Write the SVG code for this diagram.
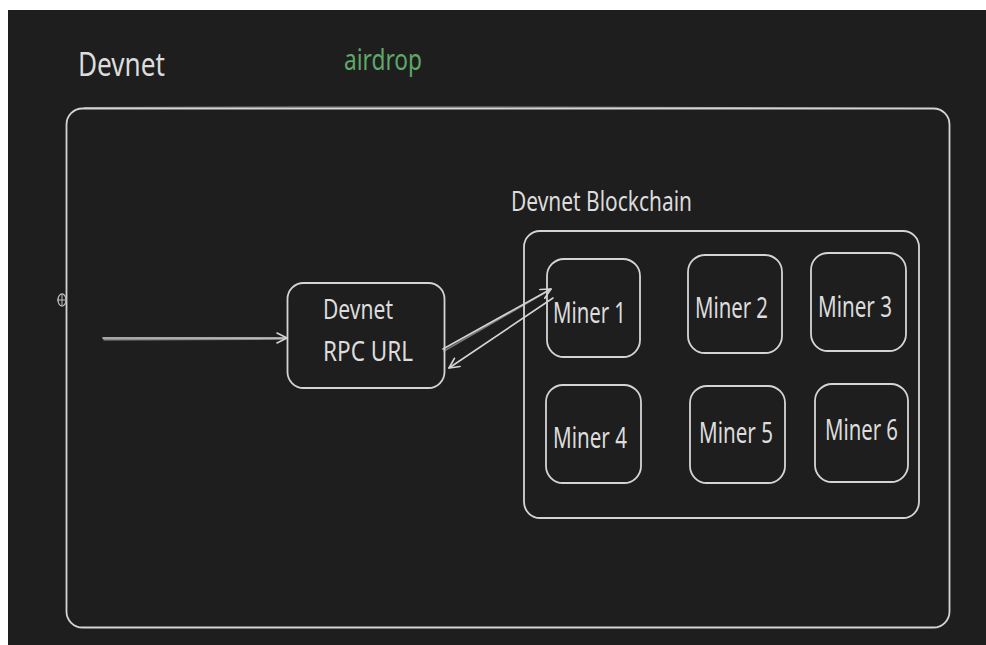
<svg xmlns="http://www.w3.org/2000/svg" width="986" height="645" viewBox="0 0 986 645">
  <defs>
    <style>
      .box { fill: none; stroke: #d4d4d4; stroke-width: 1.8; stroke-linejoin: round; }
      .box2 { fill: none; stroke: #cfcfcf; stroke-width: 0.9; opacity: 0.7; }
      .lbl { font-family: "Noto Sans", "Open Sans", "Liberation Sans", sans-serif; fill: #dcdcdc; }
      .conn { fill: none; stroke: #d4d4d4; stroke-width: 1.6; stroke-linecap: round; }
    </style>
    <marker id="arrow" viewBox="0 0 12 12" refX="11" refY="6" markerWidth="12" markerHeight="12" markerUnits="userSpaceOnUse" orient="auto">
      <path d="M1,1 L11,6 L1,11" fill="none" stroke="#d4d4d4" stroke-width="1.6" stroke-linecap="round" stroke-linejoin="round"/>
    </marker>
  </defs>

  <!-- page margin and canvas -->
  <rect x="0" y="0" width="986" height="645" fill="#ffffff"/>
  <rect x="8" y="10" width="978" height="635" fill="#1e1e1e"/>

  <!-- titles -->
  <text class="lbl" x="78" y="76" font-size="32" textLength="87" lengthAdjust="spacingAndGlyphs">Devnet</text>
  <text class="lbl" x="344" y="70" font-size="29" style="fill:#5fa866" textLength="78" lengthAdjust="spacingAndGlyphs">airdrop</text>

  <!-- outer Devnet frame -->
  <g id="devnet-frame">
    <rect class="box" x="66.5" y="108.5" width="883" height="519" rx="16"/>
    <path class="box2" d="M84,107.5 Q500,106 934,108.5"/>
  </g>

  <!-- small handle glyph on the frame edge -->
  <g id="handle">
    <ellipse cx="62" cy="300" rx="4" ry="6" fill="none" stroke="#bdbdbd" stroke-width="1.3"/>
    <line x1="57" y1="300" x2="67" y2="300" stroke="#bdbdbd" stroke-width="1"/>
    <line x1="62" y1="295" x2="62" y2="305" stroke="#bdbdbd" stroke-width="1"/>
  </g>

  <!-- RPC endpoint -->
  <g id="rpc-url">
    <rect class="box" x="287.5" y="283" width="157" height="105" rx="16"/>
    <text class="lbl" x="323" y="319" font-size="27" textLength="70" lengthAdjust="spacingAndGlyphs">Devnet</text>
    <text class="lbl" x="323" y="361" font-size="27" textLength="90" lengthAdjust="spacingAndGlyphs">RPC URL</text>
  </g>

  <!-- blockchain cluster -->
  <g id="devnet-blockchain">
    <text class="lbl" x="511" y="211" font-size="28" textLength="181" lengthAdjust="spacingAndGlyphs">Devnet Blockchain</text>
    <rect class="box" x="524" y="231" width="395" height="287" rx="16"/>
  </g>

  <g id="miner-1">
    <rect class="box" x="547" y="259" width="93" height="98" rx="17"/>
    <text class="lbl" x="553" y="323" font-size="29" textLength="73" lengthAdjust="spacingAndGlyphs">Miner 1</text>
  </g>
  <g id="miner-2">
    <rect class="box" x="688" y="255" width="94" height="98" rx="17"/>
    <text class="lbl" x="695" y="318" font-size="29" textLength="73" lengthAdjust="spacingAndGlyphs">Miner 2</text>
  </g>
  <g id="miner-3">
    <rect class="box" x="811" y="253" width="95" height="98" rx="17"/>
    <text class="lbl" x="818" y="317" font-size="29" textLength="74" lengthAdjust="spacingAndGlyphs">Miner 3</text>
  </g>
  <g id="miner-4">
    <rect class="box" x="546" y="385" width="95" height="98" rx="17"/>
    <text class="lbl" x="553" y="448" font-size="29" textLength="74" lengthAdjust="spacingAndGlyphs">Miner 4</text>
  </g>
  <g id="miner-5">
    <rect class="box" x="690" y="386" width="95" height="97" rx="17"/>
    <text class="lbl" x="699" y="443" font-size="29" textLength="74" lengthAdjust="spacingAndGlyphs">Miner 5</text>
  </g>
  <g id="miner-6">
    <rect class="box" x="815" y="384" width="93" height="98" rx="17"/>
    <text class="lbl" x="825" y="440" font-size="29" textLength="73" lengthAdjust="spacingAndGlyphs">Miner 6</text>
  </g>

  <!-- connectors -->
  <g id="connectors">
    <path class="conn" d="M103,338 L287,338" marker-end="url(#arrow)"/>
    <path class="conn" d="M104,339.8 L284,339" stroke-width="0.9" opacity="0.6"/>
    <path class="conn" d="M443,349 L551,289" marker-end="url(#arrow)"/>
    <path class="conn" d="M444,351 L548,291" stroke-width="0.8" opacity="0.5"/>
    <path class="conn" d="M553,298 L449,368" marker-end="url(#arrow)"/>
  </g>
</svg>
